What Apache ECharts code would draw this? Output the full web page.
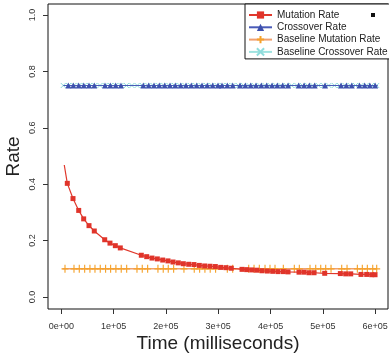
<!DOCTYPE html>
<html>
<head>
<meta charset="utf-8">
<script src="https://cdn.jsdelivr.net/npm/echarts@6/dist/echarts.min.js"></script>
<style>
  html, body { margin: 0; padding: 0; background: #fff; }
  #chart { width: 389px; height: 360px; }
</style>
</head>
<body>
<div id="chart"></div>
<script>
// tick positions and labels
const xTicks = [0, 100000, 200000, 300000, 400000, 500000, 600000];
const xTickLabels = ['0e+00', '1e+05', '2e+05', '3e+05', '4e+05', '5e+05', '6e+05'];
const yTicks = [0, 0.2, 0.4, 0.6, 0.8, 1.0];
const yTickLabels = ['0.0', '0.2', '0.4', '0.6', '0.8', '1.0'];

// Mutation Rate (first point is the curve start, drawn without a marker)
const mutTimes = [5700, 11500, 22400, 33300, 42800, 53000, 63100, 83000, 93100, 103300, 112800,
  153000, 163300, 173400, 183600, 193900, 204000, 213600, 223700, 233300, 243600, 253700, 263900,
  274100, 284300, 294500, 304800, 314900, 325000, 345500, 354500, 364100, 373600, 383700, 393900,
  404200, 414300, 424500, 433500, 454500, 464100, 473600, 483200, 503600, 533500, 543800, 553300,
  573000, 583900, 593500, 599800];
const mutRates = [0.468, 0.403, 0.349, 0.307, 0.277, 0.253, 0.234, 0.203, 0.191, 0.182, 0.174,
  0.148, 0.143, 0.138, 0.135, 0.131, 0.128, 0.124, 0.121, 0.118, 0.116, 0.115, 0.112,
  0.110, 0.109, 0.108, 0.105, 0.104, 0.102, 0.098, 0.097, 0.096, 0.095, 0.093, 0.092,
  0.091, 0.090, 0.090, 0.089, 0.088, 0.088, 0.086, 0.086, 0.084, 0.083, 0.082, 0.082,
  0.080, 0.080, 0.079, 0.079];

// Crossover Rate
const crossTimes = [3800, 13400, 23000, 33300, 42900, 53000, 63100, 83600, 93700, 104000, 114100,
  156800, 167100, 177200, 187400, 197700, 207800, 218000, 228300, 238400, 248600, 258900, 269000,
  279200, 289500, 299600, 307300, 317400, 327700, 341700, 351800, 362100, 372300, 382400, 392700,
  402900, 413000, 423300, 433500, 453900, 464100, 474200, 484500, 504200, 534800, 545000, 555300,
  570000, 580000, 590000, 600000, 605000];
const crossRate = 0.75;

// Baseline Mutation Rate
const baseMutTimes = [2300, 7100, 24300, 34400, 44700, 54800, 64400, 74500, 84700, 94300, 104400,
  114600, 125000, 144700, 154800, 165100, 184800, 194900, 204500, 214800, 234500, 254200, 264500,
  274600, 284700, 295000, 317400, 327700, 358300, 368500, 378600, 389500, 399000, 408600, 424500,
  445500, 455100, 475500, 486400, 496000, 505500, 515700, 536100, 546300, 566000, 575500, 585100,
  595400, 603000];
const baseMutRate = 0.1;

// Baseline Crossover Rate
const baseCrossTimes = [3800, 14000, 24000, 34000, 44000, 54000, 64000, 74000, 84000, 94000, 104000,
  114000, 124500, 135000, 145000, 155000, 165500, 175500, 186000, 196000, 206000, 216500, 226500,
  236500, 247000, 257000, 267500, 277500, 287500, 298000, 308000, 318000, 328500, 338500, 348500,
  359000, 369000, 379500, 389500, 399500, 410000, 420000, 430000, 440500, 450500, 461000, 471000,
  481000, 491500, 501500, 511500, 522000, 532000, 542500, 552500, 562500, 573000, 583000, 593000,
  603000];
const baseCrossRate = 0.75;

const FONT = "'Liberation Sans', Arial, Helvetica, sans-serif";
const plusPath = 'path://M0,5 L10,5 M5,0 L5,10';
const crossPath = 'path://M0,0 L10,10 M10,0 L0,10';

const mutData = mutTimes.map((t, i) =>
  i === 0 ? { value: [t, mutRates[i]], symbol: 'none' } : [t, mutRates[i]]);
const crossData = crossTimes.map((t, i) =>
  (i === 0 || i === crossTimes.length - 1) ? { value: [t, crossRate], symbol: 'none' } : [t, crossRate]);
const baseMutData = baseMutTimes.map((t, i) =>
  i === 0 ? { value: [t, baseMutRate], symbol: 'none' } : [t, baseMutRate]);
const baseCrossData = baseCrossTimes.map(t => [t, baseCrossRate]);

const chart = echarts.init(document.getElementById('chart'), null, { renderer: 'canvas' });

chart.setOption({
  animation: false,
  textStyle: { fontFamily: FONT },
  grid: {
    left: 48, top: 4, right: 1, bottom: 51,
    outerBoundsMode: 'none',
    containLabel: false,
    show: true, borderColor: '#111', borderWidth: 1, backgroundColor: '#fff'
  },
  legend: {
    orient: 'vertical',
    left: 245, top: 4,
    padding: [6, 4, 2, 3],
    itemGap: 2.3,
    itemWidth: 23, itemHeight: 9,
    backgroundColor: '#fff',
    borderColor: '#111', borderWidth: 1, borderRadius: 0,
    textStyle: { fontFamily: FONT, fontSize: 10, color: '#222' },
    data: ['Mutation Rate', 'Crossover Rate', 'Baseline Mutation Rate', 'Baseline Crossover Rate']
  },
  xAxis: {
    type: 'value',
    min: -25400, max: 624600,
    name: 'Time (milliseconds)',
    nameLocation: 'middle', nameGap: 25,
    nameMoveOverlap: false,
    nameTextStyle: { fontFamily: FONT, fontSize: 19, color: '#222' },
    axisLine: { show: false, onZero: false },
    splitLine: { show: false },
    axisTick: { show: true, customValues: xTicks, length: 5, inside: false, lineStyle: { color: '#333' } },
    axisLabel: {
      customValues: xTicks,
      margin: 13,
      fontSize: 9, color: '#333', fontFamily: FONT,
      formatter: v => xTickLabels[xTicks.indexOf(v)]
    }
  },
  yAxis: {
    type: 'value',
    min: -0.0426, max: 1.039,
    name: 'Rate',
    nameLocation: 'middle', nameGap: 25,
    nameMoveOverlap: false,
    nameTextStyle: { fontFamily: FONT, fontSize: 19, color: '#222' },
    axisLine: { show: false, onZero: false },
    splitLine: { show: false },
    axisTick: { show: true, customValues: yTicks, length: 5, inside: false, lineStyle: { color: '#333' } },
    axisLabel: {
      customValues: yTicks,
      rotate: 90,
      margin: 11,
      fontSize: 9, color: '#333', fontFamily: FONT,
      formatter: v => yTickLabels[yTicks.findIndex(t => Math.abs(t - v) < 1e-9)]
    }
  },
  series: [
    {
      name: 'Baseline Crossover Rate',
      type: 'line',
      data: baseCrossData,
      symbol: crossPath, symbolSize: 5,
      lineStyle: { color: '#9fe3e0', width: 1.2 },
      itemStyle: { color: 'rgba(0,0,0,0)', borderColor: '#8fdcdc', borderWidth: 1 },
      z: 2
    },
    {
      name: 'Crossover Rate',
      type: 'line',
      data: crossData,
      symbol: 'triangle', symbolSize: 6,
      lineStyle: { color: '#4a5bb8', width: 1.2 },
      itemStyle: { color: '#3d50ad', borderWidth: 0 },
      z: 3
    },
    {
      name: 'Baseline Mutation Rate',
      type: 'line',
      data: baseMutData,
      symbol: plusPath, symbolSize: [7, 8],
      lineStyle: { color: '#f0a070', width: 1.5 },
      itemStyle: { color: 'rgba(0,0,0,0)', borderColor: '#f5a22a', borderWidth: 1.2 },
      z: 4
    },
    {
      name: 'Mutation Rate',
      type: 'line',
      data: mutData,
      symbol: 'rect', symbolSize: 5,
      lineStyle: { color: '#e0382c', width: 1.2 },
      itemStyle: { color: '#e0342a', borderWidth: 0 },
      z: 5
    }
  ],
  graphic: [
    { type: 'rect', left: 371, top: 13, shape: { width: 4, height: 4 }, style: { fill: '#111' }, z: 100 }
  ]
});
</script>
</body>
</html>
